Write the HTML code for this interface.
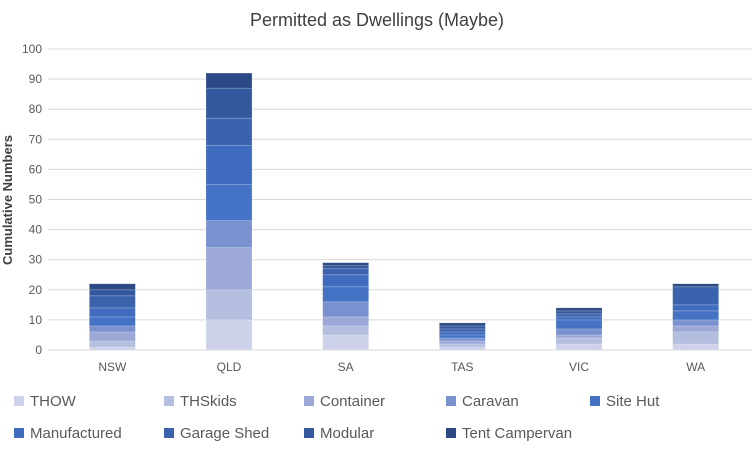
<!DOCTYPE html>
<html><head><meta charset="utf-8"><style>
body{margin:0;background:#fff;font-family:"Liberation Sans",sans-serif}
svg text{font-family:"Liberation Sans",sans-serif}
</style></head><body>
<svg id="c" width="754" height="451">
<text x="377" y="26" text-anchor="middle" font-size="18" fill="#404040">Permitted as Dwellings (Maybe)</text>
<text transform="translate(12,200) rotate(-90)" text-anchor="middle" font-size="13" font-weight="bold" fill="#404040">Cumulative Numbers</text>
<g id="grid"></g><g id="bars"></g><g id="legend"></g>
</svg>
<script>
const categories=["NSW","QLD","SA","TAS","VIC","WA"];
const seriesNames=["THOW","THSkids","Container","Caravan","Site Hut","Manufactured","Garage Shed","Modular","Tent Campervan"];
const THOW=[1,10,5,1,2,2];
const THSkids=[2,10,3,1,2,4];
const Container=[3,14,3,1,1,2];
const Caravan=[2,9,5,1,2,2];
const SiteHut=[3,12,5,1,3,3];
const Manufactured=[3,13,4,1,1,2];
const GarageShed=[4,9,2,1,1,6];
const Modular=[2,10,1,1,1,0];
const TentCampervan=[2,5,1,1,1,1];
const yTicks=[0,10,20,30,40,50,60,70,80,90,100];
const series=[THOW,THSkids,Container,Caravan,SiteHut,Manufactured,GarageShed,Modular,TentCampervan];
const colors=["#cdd2ea","#b4bedf","#9ba8d8","#7a91cf","#4472c4","#3f6cbf","#3a62ad","#34589e","#2b4a85"];
const NS="http://www.w3.org/2000/svg";
const L=54,R=754,Y0=350,Y1=49;
const y=v=>Y0-(v/100)*(Y0-Y1);
const bw=(R-L)/categories.length;
const xc=i=>L+bw*(i+0.5);
function mk(t,a,p){const e=document.createElementNS(NS,t);for(const k in a)e.setAttribute(k,a[k]);p.appendChild(e);return e;}
const g=document.getElementById('grid');
yTicks.forEach(t=>{
 const l=mk('line',{x1:48,x2:752,y1:y(t),y2:y(t),stroke:'#d9d9d9','stroke-width':1},g);
 
 
 const tx=mk('text',{x:42,y:y(t)+4,'text-anchor':'end','font-size':12,fill:'#595959'},g);
 tx.textContent=t;
 
 
});
const b=document.getElementById('bars');
categories.forEach((c,i)=>{
 let acc=0;
 series.forEach((s,j)=>{
  const v=s[i];if(v<=0)return;
  const r=mk('rect',{x:xc(i)-23,width:46,y:y(acc+v),height:y(acc)-y(acc+v),fill:colors[j],stroke:'#ffffff','stroke-opacity':0.25,'stroke-width':0.7},b);
  
  
  acc+=v;
 });
 const t=mk('text',{x:xc(i),y:371,'text-anchor':'middle','font-size':12,fill:'#595959'},b);
 t.textContent=c;
 
 
});
const lg=document.getElementById('legend');
const lx=[14,164,304,446,590];
seriesNames.forEach((n,j)=>{
 const row=j<5?0:1,col=j<5?j:j-5;
 const yy=row?433:401;
 const gg=mk('g',{},lg);
 
 
 mk('rect',{x:lx[col],y:yy-5,width:10,height:10,fill:colors[j]},gg);
 const t=mk('text',{x:lx[col]+16,y:yy+5,'font-size':15,fill:'#595959'},gg);
 t.textContent=n;
});
</script>
</body></html>
